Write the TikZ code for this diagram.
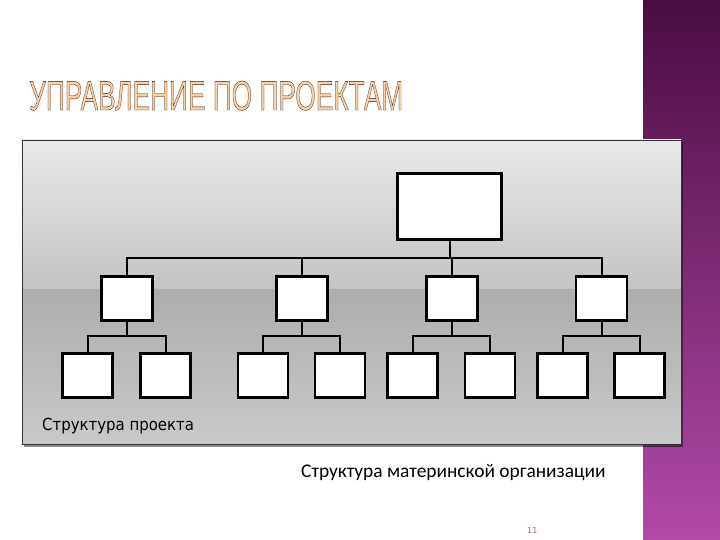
\documentclass[tikz,border=0pt]{standalone}
\usepackage{fontspec}
\usepackage{xcolor}
\usetikzlibrary{positioning, calc}
\setmainfont{DejaVu Sans}
\newfontfamily\condfont{DejaVu Sans Condensed}
\newfontfamily\titlefont{Liberation Sans}
\newfontfamily\capfont{Carlito}
\definecolor{bandtop}{HTML}{4A0C42}
\definecolor{bandmid}{HTML}{85307E}
\definecolor{bandbot}{HTML}{B24AA8}
\definecolor{titlefill}{HTML}{F9CFA4}
\newcommand{\outlined}[1]{\special{pdf:literal direct 2 Tr 0.09 w 0.28 0.1 0.05 RG}#1\special{pdf:literal direct 0 Tr}}

\begin{document}
\begin{tikzpicture}[x=1pt,y=-1pt,
    box/.style={draw=black, fill=white, line width=2.6pt, inner sep=0pt},
    midbox/.style={box, minimum width=51pt, minimum height=44pt},
    lowbox/.style={box, minimum width=50pt, minimum height=44pt},
    link/.style={draw=black, line width=2pt}]
\useasboundingbox (0,0) rectangle (720,540);
\fill[white] (0,0) rectangle (720,540);
% Purple band on the right
\shade[top color=bandtop, middle color=bandmid, bottom color=bandbot] (643,0) rectangle (720,540);
% Title
\node[anchor=base west, inner sep=0pt] (title) at (29,110)
    {\resizebox{374pt}{29pt}{\color{titlefill}\outlined{\titlefont УПРАВЛЕНИЕ ПО ПРОЕКТАМ}}};
% Panel with shadow
\fill[black, opacity=0.45] (24,142) rectangle (683,447);
\shade[top color=gray!17, bottom color=gray!47] (22,140) rectangle (681,289);
\shade[top color=gray!64, bottom color=gray!42] (22,289) rectangle (681,444);
\draw[black!80, line width=0.8pt] (22,140) rectangle (681,444);
% Boxes
\node[box, minimum width=104pt, minimum height=66pt] (top) at (449.5,206.5) {};
\foreach \i/\x in {1/127,2/302,3/452,4/601.5} {
    \node[midbox] (m\i) at (\x,298.5) {};
}
\foreach \i/\x in {1/87.5,2/165.5,3/263,4/340,5/412.5,6/490,7/562.5,8/639.5} {
    \node[lowbox] (b\i) at (\x,375.5) {};
}
% Connectors
\coordinate (bus) at (0,258);
\coordinate (lowbus) at (0,336);
\draw[link] (top.south) -- (top.south |- bus);
\draw[link] (m1.north) |- (m4.north |- bus) -- (m4.north);
\draw[link] (m2.north) -- (m2.north |- bus);
\draw[link] (m3.north) -- (m3.north |- bus);
\foreach \i/\l/\r in {1/1/2,2/3/4,3/5/6,4/7/8} {
    \draw[link] (m\i.south) -- (m\i.south |- lowbus);
    \draw[link] (b\l.north) |- (b\r.north |- lowbus) -- (b\r.north);
}
% Captions
\node[anchor=base west, inner sep=0pt, font=\condfont\fontsize{16.6}{19}\selectfont] (proj) at (42,430) {Структура проекта};
\node[anchor=base west, inner sep=0pt, font=\capfont\fontsize{19.4}{22}\selectfont] (org) at (301,477) {Структура материнской организации};
\node[anchor=base west, inner sep=0pt, text=gray!80!red, font=\fontsize{8}{10}\selectfont] (page) at (527,533) {11};
\end{tikzpicture}
\end{document}
